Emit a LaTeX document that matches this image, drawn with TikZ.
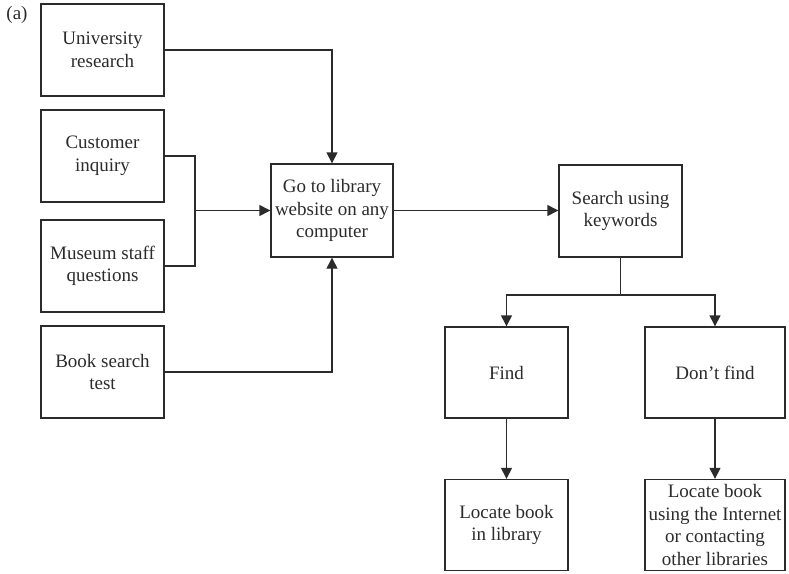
\documentclass[tikz,border=0pt]{standalone}
\usepackage{fontspec}
\setmainfont{Liberation Serif}
\usetikzlibrary{arrows.meta}
\definecolor{ink}{HTML}{2B2B2B}
\begin{document}
\begin{tikzpicture}[x=1pt,y=-1pt,
  every node/.style={text=ink},
  box/.style={draw=ink, line width=1.4pt, minimum width=123pt, minimum height=92pt,
    inner sep=0pt, align=center, font=\fontsize{19}{22.5}\selectfont},
  wide/.style={box, minimum width=140pt},
  link/.style={draw=ink, line width=1.4pt},
  arr/.style={link, -{Triangle[length=11pt,width=11pt]}}]
\useasboundingbox (0,0) rectangle (789,573);

\node[font=\fontsize{19}{22}\selectfont] (label) at (17,15) {(a)};

% sources on the left
\node[box] (uni)  at (102.5,50)  {University\\research};
\node[box] (cust) at (102.5,156) {Customer\\inquiry};
\node[box] (mus)  at (102.5,266) {Museum staff\\questions};
\node[box] (book) at (102.5,372) {Book search\\test};

% main flow
\node[box, minimum width=122pt, minimum height=93pt] (go) at (332,210.5) {Go to library\\website on any\\computer};
\node[box] (search) at (620.5,211) {Search using\\keywords};
\node[box, minimum height=91pt] (find) at (506.5,372.5) {Find};
\node[wide, minimum height=91pt] (nofind) at (715,372.5) {Don’t find};
\node[box, minimum height=91pt] (loc) at (506.5,525) {Locate book\\in library};
\node[wide, minimum height=91pt] (locext) at (715,525) {Locate book\\using the Internet\\or contacting\\other libraries};

% junctions
\coordinate (merge) at (195,210.5);
\coordinate (split) at (620.5,295);

% connectors
\draw[arr] (uni.east) -| (go.north);
\draw[link] (cust.east) -| (merge);
\draw[link] (mus.east) -| (merge);
\draw[arr] (merge) -- (go.west);
\draw[arr] (book.east) -| (go.south);
\draw[arr] (go.east) -- (search.west |- go.east);
\draw[link] (search.south) -- (split);
\draw[arr] (split) -| (find.north);
\draw[arr] (split) -| (nofind.north);
\draw[arr] (find.south) -- (loc.north);
\draw[arr] (nofind.south) -- (locext.north);
\end{tikzpicture}
\end{document}
